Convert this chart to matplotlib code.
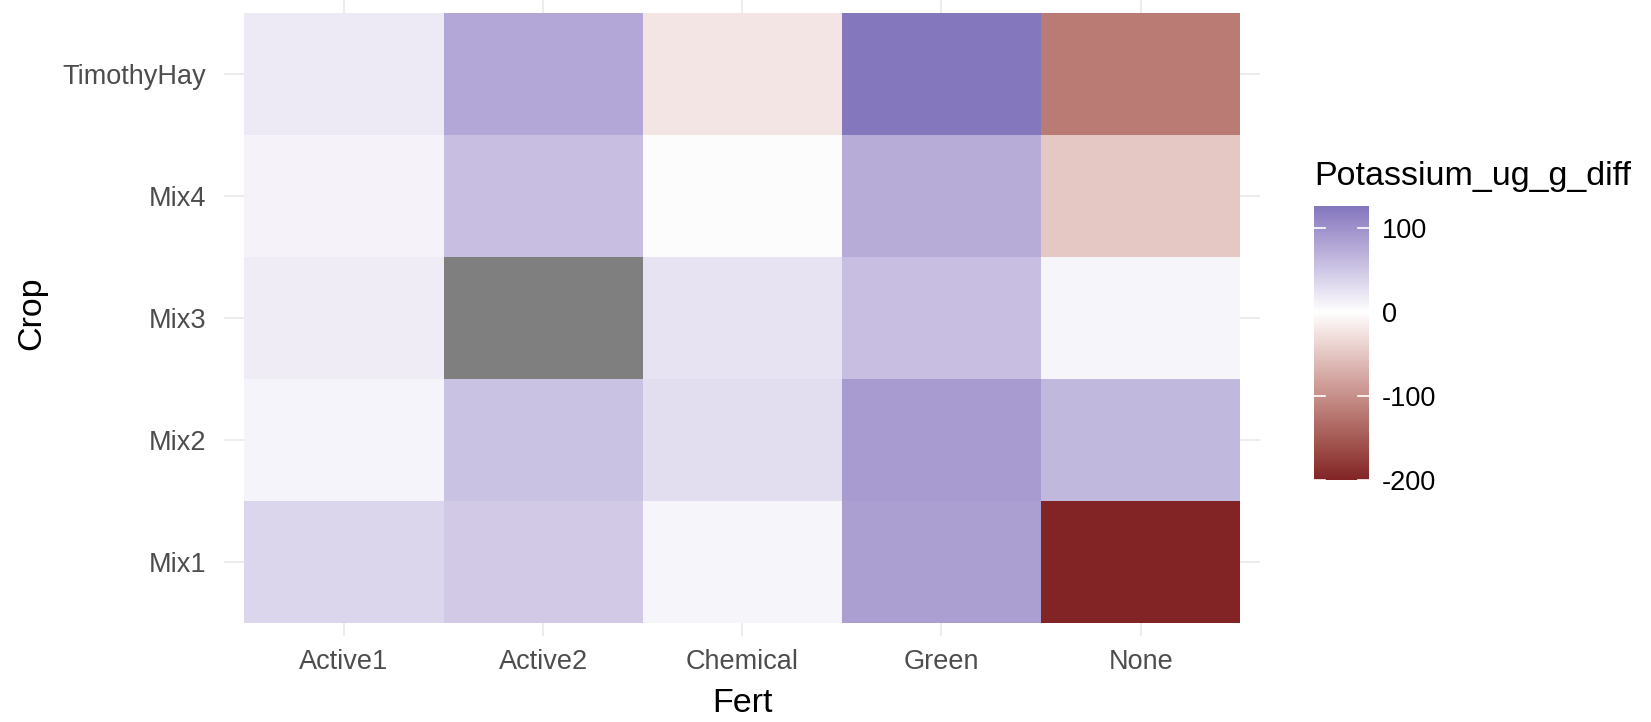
import numpy as np
import matplotlib
matplotlib.use('Agg')
import matplotlib.pyplot as plt
from matplotlib.colors import ListedColormap, TwoSlopeNorm, to_rgb

plt.rcParams['font.family'] = ['Liberation Sans', 'DejaVu Sans']

# data
fert = ['Active1', 'Active2', 'Chemical', 'Green', 'None']
crop = ['Mix1', 'Mix2', 'Mix3', 'Mix4', 'TimothyHay']
mix1 = [36, 48, 9, 87, -200]
mix2 = [10, 55, 30, 91, 64]
mix3 = [17, np.nan, 25, 58, 9]   # Active2 missing
mix4 = [11, 58, 3, 75, -50]
timothy = [19, 80, -23, 126, -120]

vals = np.array([mix1, mix2, mix3, mix4, timothy], dtype=float)
z = np.ma.masked_invalid(vals)
vmin = np.nanmin(vals)
vmax = np.nanmax(vals)


# ggplot style gradient2: interpolate in Lab space
def to_lab(c):
    c = np.array(to_rgb(c))
    c = np.where(c > 0.04045, ((c + 0.055) / 1.055) ** 2.4, c / 12.92)
    m = np.array([[0.4124, 0.3576, 0.1805], [0.2126, 0.7152, 0.0722], [0.0193, 0.1192, 0.9505]])
    xyz = m @ c / np.array([0.95047, 1.0, 1.08883])
    f = np.where(xyz > 0.008856, np.cbrt(xyz), 7.787 * xyz + 16 / 116)
    return np.array([116 * f[1] - 16, 500 * (f[0] - f[1]), 200 * (f[1] - f[2])])


def from_lab(lab):
    fy = (lab[1 - 1] + 16) / 116
    fx = fy + lab[1] / 500
    fz = fy - lab[2] / 200
    f = np.array([fx, fy, fz])
    xyz = np.where(f ** 3 > 0.008856, f ** 3, (f - 16 / 116) / 7.787) * np.array([0.95047, 1.0, 1.08883])
    m = np.array([[3.2406, -1.5372, -0.4986], [-0.9689, 1.8758, 0.0415], [0.0557, -0.2040, 1.0570]])
    c = m @ xyz
    c = np.where(c > 0.0031308, 1.055 * np.clip(c, 0, None) ** (1 / 2.4) - 0.055, 12.92 * c)
    return np.clip(c, 0, 1)


low, mid, high = to_lab('#822426'), to_lab('#ffffff'), to_lab('#8577be')
n = 256
cols = [from_lab(low + (mid - low) * t) for t in np.linspace(0, 1, n)]
cols += [from_lab(mid + (high - mid) * t) for t in np.linspace(0, 1, n)]
cmap = ListedColormap(cols)
cmap.set_bad('#7f7f7f')
norm = TwoSlopeNorm(vmin=vmin, vcenter=0, vmax=vmax)

W, H = 1651, 722
fig = plt.figure(figsize=(W / 100, H / 100), dpi=100)

# panel (pixel box -> figure fractions)
px0, px1, py0, py1 = 224.4, 1260.2, 0.4, 635.5
ax = fig.add_axes([px0 / W, 1 - py1 / H, (px1 - px0) / W, (py1 - py0) / H])
ax.pcolormesh(np.arange(len(fert) + 1) - 0.5, np.arange(len(crop) + 1) - 0.5, z,
              cmap=cmap, norm=norm, zorder=2)
ax.set_xlim(-0.6, len(fert) - 0.4)
ax.set_ylim(-0.6, len(crop) - 0.4)
ax.set_xticks(range(len(fert)))
ax.set_xticklabels(fert)
ax.set_yticks(range(len(crop)))
ax.set_yticklabels(crop)
ax.grid(True, color='#ebebeb', lw=1.3, zorder=0)
ax.set_axisbelow(True)
for s in ax.spines.values():
    s.set_visible(False)
ax.tick_params(length=0, labelsize=19.5, labelcolor='#4d4d4d')
ax.tick_params(axis='y', pad=13)
ax.tick_params(axis='x', pad=10)

fig.text(31.6 / W, 1 - 313 / H, 'Crop', rotation=90, ha='center', va='center', fontsize=24.5)
fig.text(742 / W, 1 - 703 / H, 'Fert', ha='center', va='center', fontsize=24.5)

# colour bar
cx0, cx1, cy0, cy1 = 1314, 1369, 206, 480
cax = fig.add_axes([cx0 / W, 1 - cy1 / H, (cx1 - cx0) / W, (cy1 - cy0) / H])
grad = np.linspace(vmin, vmax, 400).reshape(-1, 1)
cax.imshow(grad, cmap=cmap, norm=norm, aspect='auto', origin='lower',
           extent=[0, 1, vmin, vmax])
cax.set_xlim(0, 1)
cax.set_ylim(vmin, vmax)
cax.set_xticks([])
ticks = [-200, -100, 0, 100]
cax.yaxis.tick_right()
cax.set_yticks(ticks)
cax.set_yticklabels([str(t) for t in ticks])
cax.tick_params(length=0, labelsize=19.5, pad=9)
for s in cax.spines.values():
    s.set_visible(False)
for t in ticks:
    cax.plot([0, 0.2], [t, t], color='white', lw=1.2)
    cax.plot([0.8, 1], [t, t], color='white', lw=1.2)

fig.text(1314 / W, 1 - 176 / H, 'Potassium_ug_g_diff', ha='left', va='center', fontsize=24.5)

fig.savefig('out.png', dpi=100)
